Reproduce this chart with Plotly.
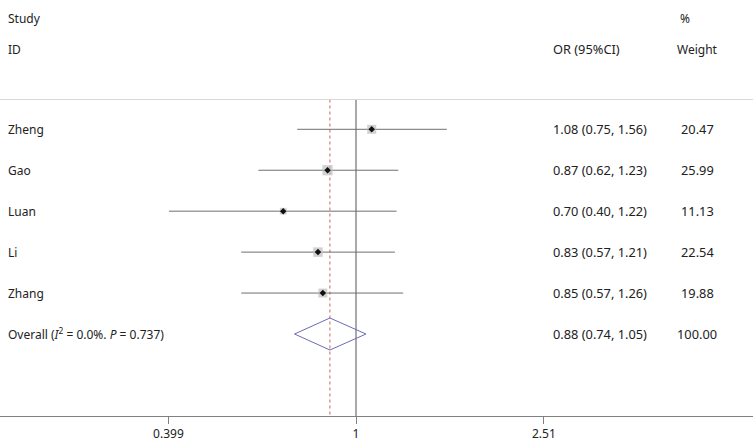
import plotly.graph_objects as go

studies = ["Zheng", "Gao", "Luan", "Li", "Zhang"]
or_est = [1.08, 0.87, 0.70, 0.83, 0.85]
ci_low = [0.75, 0.62, 0.40, 0.57, 0.57]
ci_high = [1.56, 1.23, 1.22, 1.21, 1.26]
weights = [20.47, 25.99, 11.13, 22.54, 19.88]

overall_label = "Overall (<i>I</i><sup>2</sup> = 0.0%. <i>P</i> = 0.737)"
overall_est = 0.88
overall_low = 0.74
overall_high = 1.05
overall_weight = 100.00

tick_vals = [0.399, 1, 2.51]
tick_text = ["0.399", "1", "2.51"]

FONT = "Noto Sans"
FS = 12
FS_NUM = 12.8
W, H = 753, 444
row_px0, row_step = 129.3, 40.94
y_top = -row_px0 / row_step
y_bot = (416 - row_px0) / row_step
sep_y = (99.5 - row_px0) / row_step

fig = go.Figure()

rows = list(range(len(studies)))
overall_row = len(studies)

# reference lines
fig.add_trace(go.Scatter(x=[1, 1], y=[sep_y, y_bot], mode="lines",
                         line=dict(color="#555555", width=1), hoverinfo="skip"))
fig.add_trace(go.Scatter(x=[overall_est, overall_est], y=[sep_y, y_bot], mode="lines",
                         line=dict(color="#d06060", width=1, dash="dot"), hoverinfo="skip"))

# CI lines
for i in rows:
    fig.add_trace(go.Scatter(x=[ci_low[i], ci_high[i]], y=[i, i], mode="lines",
                             line=dict(color="#707070", width=1), hoverinfo="skip"))

# weight boxes
fig.add_trace(go.Scatter(x=or_est, y=rows, mode="markers",
                         marker=dict(symbol="square", color="#bdbdbd",
                                     size=[2.0 * w ** 0.5 for w in weights],
                                     line=dict(width=0)), hoverinfo="skip"))
# point estimates
fig.add_trace(go.Scatter(x=or_est, y=rows, mode="markers",
                         marker=dict(symbol="diamond", color="#111111", size=5,
                                     line=dict(width=0)), hoverinfo="skip"))

# overall diamond
d = 16 / row_step
fig.add_trace(go.Scatter(
    x=[overall_low, overall_est, overall_high, overall_est, overall_low],
    y=[overall_row, overall_row - d, overall_row, overall_row + d, overall_row],
    mode="lines", line=dict(color="#6b6bb8", width=1), hoverinfo="skip"))

annotations = []
def txt(x_px, y, s, anchor="left", size=FS):
    annotations.append(dict(x=x_px / W, xref="paper", y=y, yref="y", text=s,
                            showarrow=False, xanchor=anchor, yanchor="middle",
                            font=dict(family=FONT, size=size, color="#222222")))

hdr1 = (18 - row_px0) / row_step
hdr2 = (49 - row_px0) / row_step
txt(6, hdr1, "Study")
txt(6, hdr2, "ID")
txt(551, hdr2, "OR (95%CI)", size=FS_NUM)
txt(678, hdr1, "%")
txt(697, hdr2, "Weight", "center")

for i in rows:
    txt(6, i, studies[i])
    txt(551, i, f"{or_est[i]:.2f} ({ci_low[i]:.2f}, {ci_high[i]:.2f})", size=FS_NUM)
    txt(697, i, f"{weights[i]:.2f}", "center", size=FS_NUM)
txt(6, overall_row, overall_label)
txt(551, overall_row, f"{overall_est:.2f} ({overall_low:.2f}, {overall_high:.2f})", size=FS_NUM)
txt(697, overall_row, f"{overall_weight:.2f}", "center", size=FS_NUM)

x_left = -356 / 470
x_right = (W - 356) / 470

fig.update_layout(
    width=W, height=H,
    margin=dict(l=0, r=0, t=0, b=28),
    plot_bgcolor="white", paper_bgcolor="white",
    showlegend=False,
    annotations=annotations,
    shapes=[dict(type="line", xref="paper", yref="y", x0=0, x1=1, y0=sep_y, y1=sep_y,
                 line=dict(color="#d8d8d8", width=1))],
    xaxis=dict(type="log", range=[x_left, x_right], tickvals=tick_vals, ticktext=tick_text,
               showgrid=False, zeroline=False, showline=True, linecolor="#808080", linewidth=1,
               ticks="outside", ticklen=7, tickcolor="#808080",
               tickfont=dict(family=FONT, size=FS, color="#222222")),
    yaxis=dict(range=[y_bot, y_top], visible=False, showgrid=False, zeroline=False),
)

fig.write_html("out.html", config={"displayModeBar": False},
               post_script="document.body.style.margin='0';")
